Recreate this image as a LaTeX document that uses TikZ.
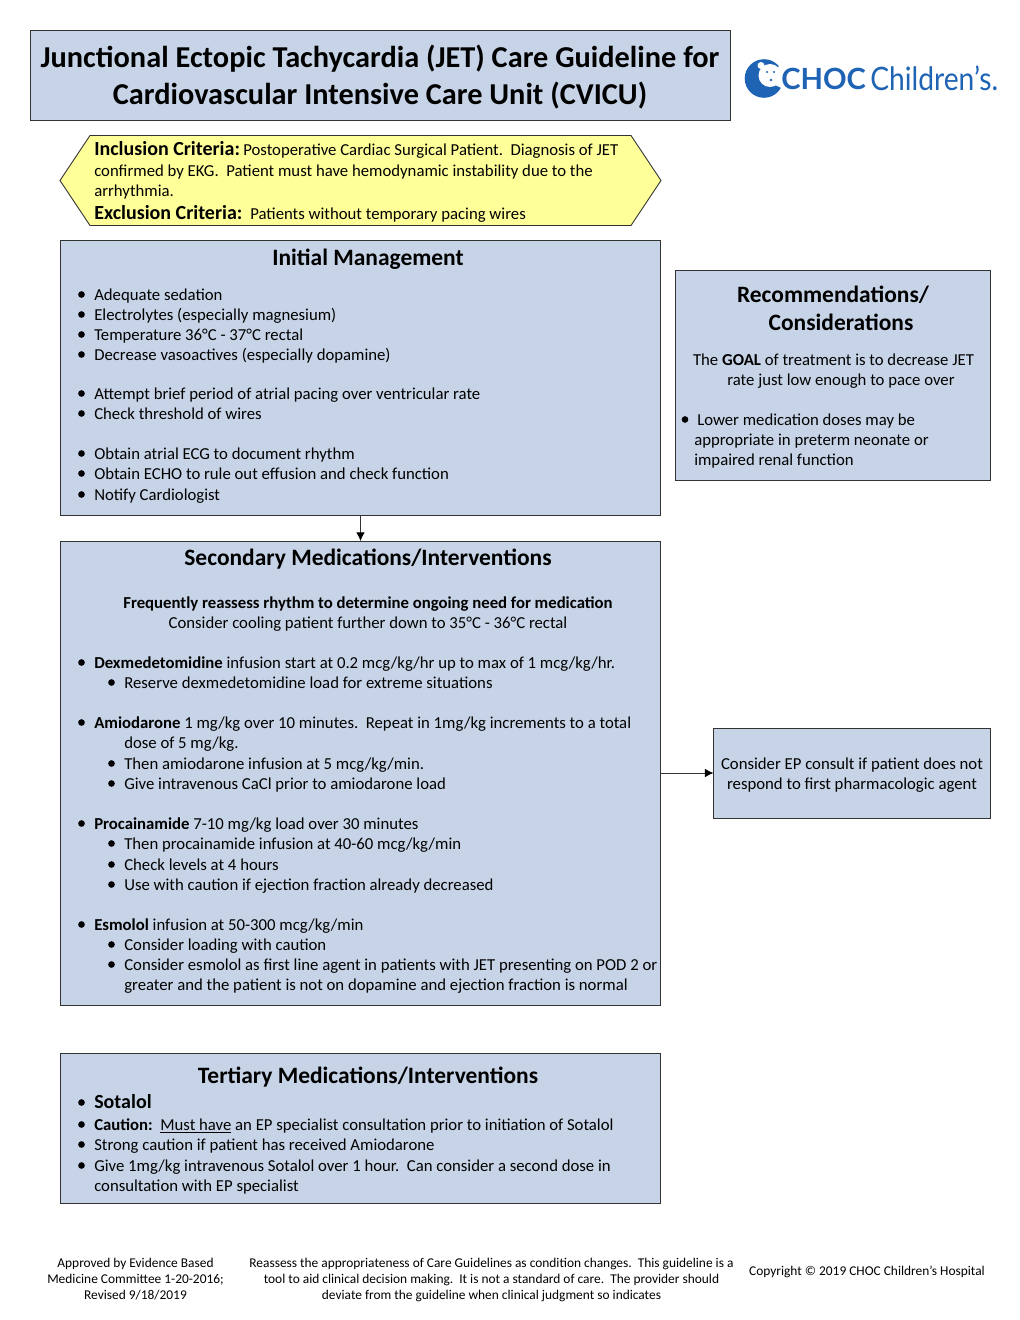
\documentclass[tikz,border=0pt]{standalone}
\usepackage{fontspec}
\setmainfont{Carlito}
\newfontfamily\logofont{Lato}
\definecolor{boxblue}{HTML}{C7D4E7}
\definecolor{crityellow}{HTML}{FFFF99}
\definecolor{logoblue}{HTML}{1F63B5}
\definecolor{edge}{HTML}{333333}
\newcounter{tl}
\newcommand{\tx}[3]{\stepcounter{tl}\node[txt] (t\thetl) at (#1,#2+6) {#3};}
\newcommand{\tc}[3]{\stepcounter{tl}\node[txt,anchor=base] (t\thetl) at (#1,#2+6) {#3};}
\newcommand{\hd}[3]{\stepcounter{tl}\node[txt,anchor=base,font=\fontsize{17.6}{21}\selectfont\bfseries] (t\thetl) at (#1,#2+7.5) {#3};}
\newcommand{\ft}[3]{\stepcounter{tl}\node[txt,anchor=base,font=\fontsize{10.05}{12}\selectfont] (t\thetl) at (#1,#2+4) {#3};}
\newcommand{\bl}[2]{\stepcounter{tl}\node[bul] (t\thetl) at (#1,#2+0.5) {};}
\tikzset{
  x=0.75pt,y=-0.75pt,
  txt/.style={inner sep=0pt,anchor=base west,font=\fontsize{12.55}{15}\selectfont,text=black},
  bul/.style={circle,fill=black,inner sep=0pt,minimum size=5pt},
  panel/.style={draw=edge,fill=boxblue,line width=0.7pt,anchor=north west,inner sep=0pt,outer sep=0pt},
  arr/.style={draw=edge,line width=0.7pt,-{Latex[length=6.5pt,width=6.5pt,black]}},
  logotxt/.style={inner sep=0pt,anchor=base west,text=logoblue},
}
\usetikzlibrary{arrows.meta}
\begin{document}
\begin{tikzpicture}
\useasboundingbox (0,0) rectangle (1020,1320);
% panels
\node[panel,minimum width=525pt,minimum height=67.5pt] (title) at (30,30) {};
\node[panel,minimum width=450pt,minimum height=206.7pt] (init) at (60.5,240) {};
\node[panel,minimum width=450pt,minimum height=348pt] (sec) at (60.5,541) {};
\node[panel,minimum width=450pt,minimum height=112.5pt] (tert) at (60.5,1053) {};
\node[panel,minimum width=236.4pt,minimum height=157.7pt] (rec) at (675.5,270) {};
\node[panel,minimum width=208pt,minimum height=67.5pt] (ep) at (713.5,728) {};
\draw[draw=edge,fill=crityellow,line width=0.7pt] (90,135.5) -- (631,135.5) -- (661,180.5) -- (631,225.5) -- (90,225.5) -- (60,180.5) -- cycle;
\draw[arr] (init) -- (sec);
\draw[arr] (sec) -- (ep);
% title
\stepcounter{tl}\node[txt,anchor=base,font=\fontsize{22.75}{27}\selectfont\bfseries] (t\thetl) at (380,68) {Junctional Ectopic Tachycardia (JET) Care Guideline for};
\stepcounter{tl}\node[txt,anchor=base,font=\fontsize{22.75}{27}\selectfont\bfseries] (t\thetl) at (380,104) {Cardiovascular Intensive Care Unit (CVICU)};
% logo
\fill[logoblue] (764,78.5) circle (19.3);
\fill[white] (770,75.5) circle (11.5);
\fill[white] (775,70) -- (790,56) -- (790,92) -- (775,85) -- cycle;
\fill[white] (761,65.5) circle (3.5);
\fill[logoblue] (767,72) circle (1.2);
\fill[logoblue] (774,72) circle (1.2);
\fill[logoblue] (771,80) circle (1.4);
\stepcounter{tl}\node[logotxt] (t\thetl) at (781,90) {\resizebox{63.5pt}{!}{\logofont\bfseries CHOC}};
\stepcounter{tl}\node[logotxt] (t\thetl) at (870,90) {\resizebox{96pt}{18.5pt}{\logofont Children’s.}};
% criteria
\stepcounter{tl}\node[txt,font=\fontsize{15}{18}\selectfont\bfseries] (t\thetl) at (94,155) {Inclusion Criteria:};
\tx{243}{149}{Postoperative Cardiac Surgical Patient.\ \ Diagnosis of JET}
\tx{94}{170}{confirmed by EKG.\ \ Patient must have hemodynamic instability due to the}
\tx{94}{190}{arrhythmia.}
\stepcounter{tl}\node[txt,font=\fontsize{15}{18}\selectfont\bfseries] (t\thetl) at (94,219) {Exclusion Criteria:};
\tx{250}{213}{Patients without temporary pacing wires}
% initial
\hd{368}{258}{Initial Management}
\bl{81.5}{294}\tx{94}{294}{Adequate sedation}
\bl{81.5}{314}\tx{94}{314}{Electrolytes (especially magnesium)}
\bl{81.5}{334}\tx{94}{334}{Temperature 36°C - 37°C rectal}
\bl{81.5}{354}\tx{94}{354}{Decrease vasoactives (especially dopamine)}
\bl{81.5}{393}\tx{94}{393}{Attempt brief period of atrial pacing over ventricular rate}
\bl{81.5}{413}\tx{94}{413}{Check threshold of wires}
\bl{81.5}{453}\tx{94}{453}{Obtain atrial ECG to document rhythm}
\bl{81.5}{473}\tx{94}{473}{Obtain ECHO to rule out effusion and check function}
\bl{81.5}{494}\tx{94}{494}{Notify Cardiologist}
% secondary
\hd{368}{558}{Secondary Medications/Interventions}
\tc{368}{602}{\bfseries Frequently reassess rhythm to determine ongoing need for medication}
\tc{368}{622}{Consider cooling patient further down to 35°C - 36°C rectal}
\bl{81.5}{662}\tx{94}{662}{\textbf{Dexmedetomidine} infusion start at 0.2 mcg/kg/hr up to max of 1 mcg/kg/hr.}
\bl{111.5}{682}\tx{124}{682}{Reserve dexmedetomidine load for extreme situations}
\bl{81.5}{722}\tx{94}{722}{\textbf{Amiodarone} 1 mg/kg over 10 minutes.\ \ Repeat in 1mg/kg increments to a total}
\tx{124}{742}{dose of 5 mg/kg.}
\bl{111.5}{763}\tx{124}{763}{Then amiodarone infusion at 5 mcg/kg/min.}
\bl{111.5}{783}\tx{124}{783}{Give intravenous CaCl prior to amiodarone load}
\bl{81.5}{823}\tx{94}{823}{\textbf{Procainamide} 7-10 mg/kg load over 30 minutes}
\bl{111.5}{843}\tx{124}{843}{Then procainamide infusion at 40-60 mcg/kg/min}
\bl{111.5}{864}\tx{124}{864}{Check levels at 4 hours}
\bl{111.5}{884}\tx{124}{884}{Use with caution if ejection fraction already decreased}
\bl{81.5}{924}\tx{94}{924}{\textbf{Esmolol} infusion at 50-300 mcg/kg/min}
\bl{111.5}{944}\tx{124}{944}{Consider loading with caution}
\bl{111.5}{964}\tx{124}{964}{Consider esmolol as first line agent in patients with JET presenting on POD 2 or}
\tx{124}{984}{greater and the patient is not on dopamine and ejection fraction is normal}
% tertiary
\hd{368}{1076}{Tertiary Medications/Interventions}
\bl{81.5}{1102}\stepcounter{tl}\node[txt,font=\fontsize{15}{18}\selectfont\bfseries] (t\thetl) at (94,1108) {Sotalol};
\bl{81.5}{1124}\tx{94}{1124}{\textbf{Caution:}\ \ \underline{Must have} an EP specialist consultation prior to initiation of Sotalol}
\bl{81.5}{1144}\tx{94}{1144}{Strong caution if patient has received Amiodarone}
\bl{81.5}{1165}\tx{94}{1165}{Give 1mg/kg intravenous Sotalol over 1 hour.\ \ Can consider a second dose in}
\tx{94}{1185}{consultation with EP specialist}
% recommendations
\hd{833}{295}{Recommendations/}
\hd{841}{323}{Considerations}
\tc{833.5}{359}{The \textbf{GOAL} of treatment is to decrease JET}
\tc{841}{379}{rate just low enough to pace over}
\bl{685}{419}\tx{697}{419}{Lower medication doses may be}
\tx{694}{439}{appropriate in preterm neonate or}
\tx{694}{459}{impaired renal function}
% EP
\tc{852}{763}{Consider EP consult if patient does not}
\tc{852}{783}{respond to first pharmacologic agent}
% footer
\ft{135.5}{1263}{Approved by Evidence Based}
\ft{135.5}{1279}{Medicine Committee 1-20-2016;}
\ft{135.5}{1295}{Revised 9/18/2019}
\ft{491.5}{1263}{Reassess the appropriateness of Care Guidelines as condition changes.\ \ This guideline is a}
\ft{491.5}{1279}{tool to aid clinical decision making.\ \ It is not a standard of care.\ \ The provider should}
\ft{491.5}{1295}{deviate from the guideline when clinical judgment so indicates}
\ft{867}{1271}{Copyright © 2019 CHOC Children’s Hospital}
\end{tikzpicture}
\end{document}
